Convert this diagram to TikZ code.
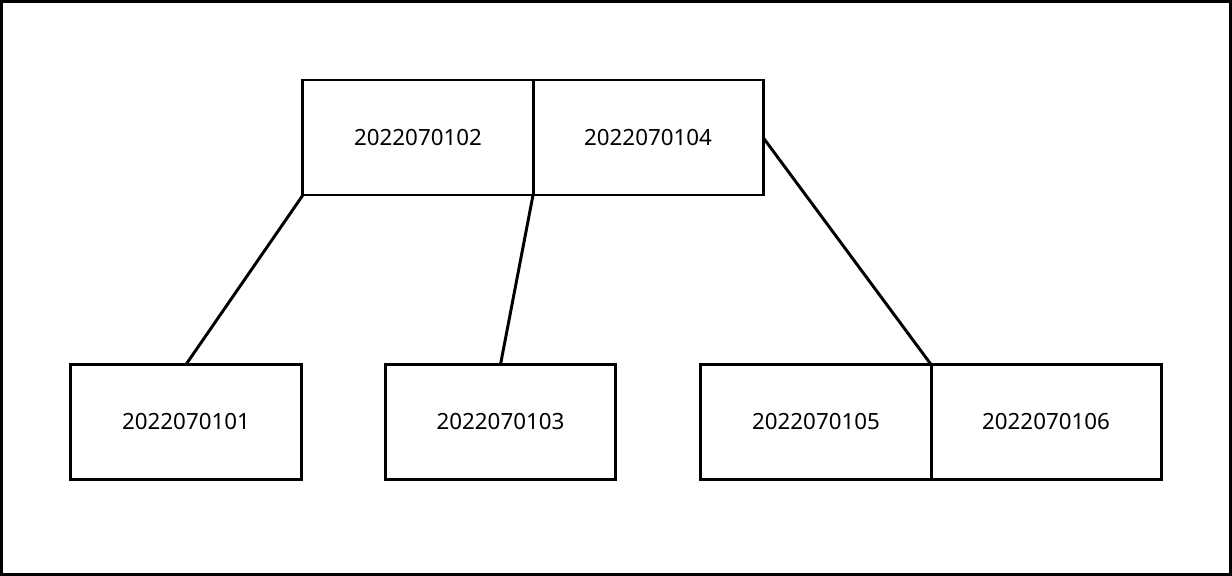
\documentclass[tikz,border=0pt]{standalone}
\usepackage{fontspec}
\setmainfont{Noto Sans}
\usepackage{tikz}
\usetikzlibrary{positioning}
\tikzstyle{key} = [rectangle, minimum width=5.75cm, minimum height=2.875cm, inner sep=0pt, outer sep=0pt, text centered, draw=black, line width=2.1pt, font=\fontsize{15.9}{18}\selectfont]
\tikzstyle{link} = [line width=2.1pt]

\begin{document}
\begin{tikzpicture}[x=0.025cm, y=-0.025cm]
            \useasboundingbox (0,0) rectangle (1232,576);
            \draw[line width=2.1pt] (1.5,1.5) rectangle (1230.5,574.5);
            \node[key] (k102) at (418,137.5) {2022070102};
            \node[key, right=0pt of k102] (k104) {2022070104};
            \node[key] (k101) at (186,422) {2022070101};
            \node[key] (k103) at (500.5,422) {2022070103};
            \node[key] (k105) at (816,422) {2022070105};
            \node[key, right=0pt of k105] (k106) {2022070106};
            
            \draw[link] (k102.south west) -- (k101.north);
            \draw[link] (k102.south east) -- (k103.north);
            \draw[link] (k104.east) -- (k106.north west);
        \end{tikzpicture}
\end{document}
